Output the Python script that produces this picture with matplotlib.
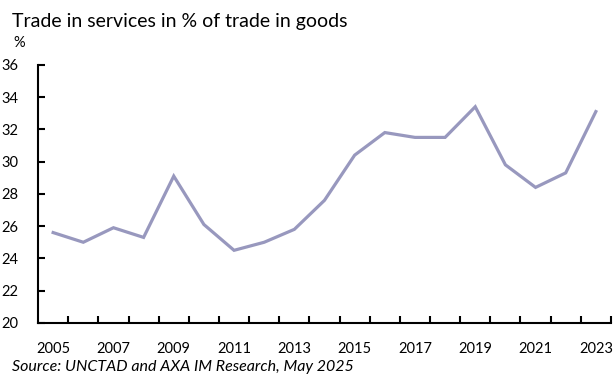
import numpy as np
import matplotlib.pyplot as plt

# Data
years = list(range(2005, 2024))
ratio = [25.6, 25.0, 25.9, 25.3, 29.1, 26.1, 24.5, 25.0, 25.8, 27.6,
         30.4, 31.8, 31.5, 31.5, 33.4, 29.8, 28.4, 29.3, 33.1]
y_ticks = [20, 22, 24, 26, 28, 30, 32, 34, 36]

plt.rcParams['font.family'] = ['Lato', 'DejaVu Sans']

fig = plt.figure(figsize=(6.14, 3.79), dpi=100)
ax = fig.add_axes([0.062, 0.148, 0.933, 0.681])

x = np.arange(len(years))
ax.plot(x, ratio, color='#9898BE', lw=2.3, solid_joinstyle='miter')

ax.set_xlim(-0.5, len(years) - 0.5)
ax.set_ylim(20, 36)
ax.set_yticks(y_ticks)
ax.set_yticklabels([str(v) for v in y_ticks], fontsize=10.5)

# category boundary ticks, labels every other year at centres
ax.set_xticks(x + 0.5)
ax.set_xticklabels([])
ax.set_xticks(x[::2], minor=True)
ax.set_xticklabels([str(y) for y in years[::2]], minor=True, fontsize=10.5)
ax.tick_params(axis='x', which='major', direction='in', length=5, width=1.5)
ax.tick_params(axis='x', which='minor', length=0, pad=14)
ax.tick_params(axis='y', direction='in', length=5, width=1.5, pad=14)

for s in ['top', 'right']:
    ax.spines[s].set_visible(False)
for s in ['left', 'bottom']:
    ax.spines[s].set_linewidth(1.5)

fig.text(0.02, 0.93, 'Trade in services in % of trade in goods', fontsize=14)
fig.text(0.022, 0.875, '%', fontsize=10.5)
fig.text(0.02, 0.02, 'Source: UNCTAD and AXA IM Research, May 2025',
         fontsize=11.5, style='italic')

fig.savefig('out.png', dpi=100)
